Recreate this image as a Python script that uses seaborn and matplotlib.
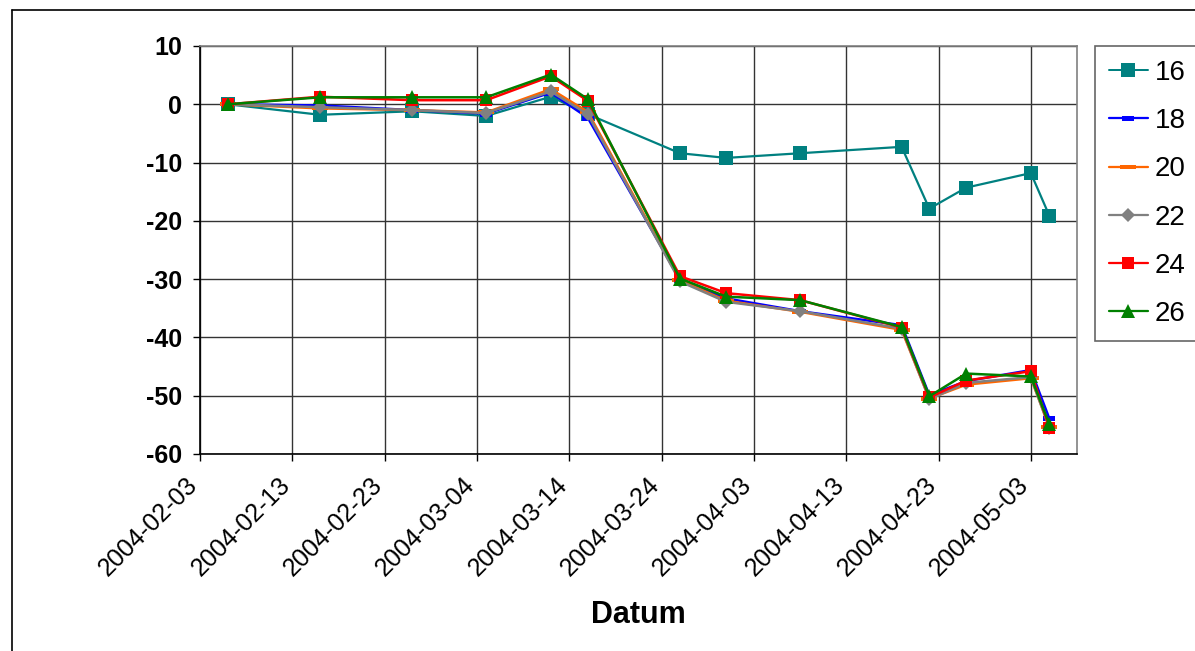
import matplotlib
matplotlib.use("Agg")
import matplotlib.pyplot as plt
import matplotlib.transforms as mtransforms
import matplotlib.dates as mdates
from matplotlib.lines import Line2D
import numpy as np
import pandas as pd
import seaborn as sns

# Measurement dates
dates = ["2004-02-06", "2004-02-16", "2004-02-26", "2004-03-05", "2004-03-12",
         "2004-03-16", "2004-03-26", "2004-03-31", "2004-04-08", "2004-04-19",
         "2004-04-22", "2004-04-26", "2004-05-03", "2004-05-05"]

# Series values
s16 = [0, -1.8, -1.2, -2.0, 1.3, -1.7, -8.4, -9.2, -8.4, -7.3, -17.9, -14.3, -11.8, -19.1]
s18 = [0, -0.2, -1.0, -1.6, 2.0, -2.3, -30.1, -33.3, -35.5, -37.9, -49.9, -47.5, -45.6, -53.9]
s20 = [0, -0.7, -1.0, -1.4, 2.6, -1.3, -30.2, -33.7, -35.6, -38.7, -50.5, -48.1, -47.0, -55.3]
s22 = [0, -0.5, -1.0, -1.5, 2.2, -1.7, -30.4, -33.9, -35.5, -38.5, -50.6, -47.8, -46.8, -55.5]
s24 = [0, 1.3, 0.7, 0.7, 4.8, 0.6, -29.5, -32.4, -33.6, -38.3, -50.3, -47.4, -45.8, -55.5]
s26 = [0, 1.2, 1.2, 1.2, 5.1, 0.9, -29.9, -33.0, -33.6, -38.2, -50.1, -46.2, -46.7, -54.9]

series_names = ["16", "18", "20", "22", "24", "26"]
series_values = [s16, s18, s20, s22, s24, s26]

tick_start = "2004-02-03"
x_max = "2004-05-08"
y_ticks = [10, 0, -10, -20, -30, -40, -50, -60]

# Excel-like dash markers (short wide bars)
dash_small = [(-1.0, -0.45), (1.0, -0.45), (1.0, 0.45), (-1.0, 0.45), (-1.0, -0.45)]
dash_wide = [(-1.0, -0.3), (1.0, -0.3), (1.0, 0.3), (-1.0, 0.3), (-1.0, -0.3)]

styles = {
    "16": dict(color="#008080", marker="s", ms=10, lw=1.6),
    "18": dict(color="#0000FF", marker=dash_small, ms=8, lw=1.8),
    "20": dict(color="#FF6600", marker=dash_wide, ms=11, lw=1.8),
    "22": dict(color="#808080", marker="D", ms=7, lw=1.8),
    "24": dict(color="#FF0000", marker="s", ms=9, lw=1.8),
    "26": dict(color="#008000", marker="^", ms=10, lw=1.8),
}

records = []
for name, vals in zip(series_names, series_values):
    for d, v in zip(dates, vals):
        records.append({"Datum": pd.Timestamp(d), "value": v, "series": name})
df = pd.DataFrame(records)

sns.set_style("white")
plt.rcParams["font.family"] = ["Liberation Sans", "DejaVu Sans"]
plt.rcParams["axes.unicode_minus"] = False
plt.rcParams["text.color"] = "black"
plt.rcParams["axes.labelcolor"] = "black"
plt.rcParams["xtick.color"] = "black"
plt.rcParams["ytick.color"] = "black"

fig = plt.figure(figsize=(11.95, 6.51), dpi=100)
ax = fig.add_axes([200 / 1195, 1 - 454 / 651, 877 / 1195, 408 / 651])

handles = []
for name in series_names:
    st = styles[name]
    sub = df[df["series"] == name]
    sns.lineplot(data=sub, x="Datum", y="value", ax=ax, color=st["color"],
                 marker=st["marker"], markersize=st["ms"], linewidth=st["lw"],
                 markeredgewidth=0, markerfacecolor=st["color"],
                 markeredgecolor=st["color"], legend=False, zorder=3)
    handles.append(Line2D([0], [0], color=st["color"], marker=st["marker"],
                          markersize=st["ms"], lw=st["lw"] * 0.9,
                          markeredgewidth=0, markerfacecolor=st["color"]))

# Axes ranges and ticks
x0 = pd.Timestamp(tick_start)
x_ticks = pd.date_range(x0, periods=10, freq="10D")
ax.set_xlim(x0, pd.Timestamp(x_max))
ax.set_ylim(-60, 10)
ax.set_yticks(y_ticks)
ax.set_xticks(x_ticks)
ax.xaxis.set_major_formatter(mdates.DateFormatter("%Y-%m-%d"))

ax.grid(True, color="#333333", linewidth=1.0, zorder=0)
ax.set_axisbelow(True)

for side in ["left", "bottom"]:
    ax.spines[side].set_color("black")
    ax.spines[side].set_linewidth(1.2)
for side in ["top", "right"]:
    ax.spines[side].set_color("#808080")
    ax.spines[side].set_linewidth(1.2)

ax.tick_params(axis="y", which="major", direction="out", length=5, width=1,
               color="black", labelsize=18, pad=8, left=True)
ax.tick_params(axis="x", which="major", direction="out", length=5, width=1,
               color="black", labelsize=18, pad=14.5, bottom=True)
for lbl in ax.get_yticklabels():
    lbl.set_fontweight("bold")
offset = mtransforms.ScaledTranslation(-6 / 100, 0, fig.dpi_scale_trans)
for lbl in ax.get_xticklabels():
    lbl.set_rotation(45)
    lbl.set_ha("right")
    lbl.set_va("center")
    lbl.set_rotation_mode("anchor")
    lbl.set_transform(lbl.get_transform() + offset)

ax.set_ylabel("")
ax.set_xlabel("Datum", fontsize=22, fontweight="bold")
ax.xaxis.set_label_coords(0.5, (1 - 615 / 651 - (1 - 454 / 651)) / (408 / 651),
                          transform=ax.transAxes)
ax.xaxis.label.set_va("center")

leg = fig.legend(handles, series_names, loc="upper left",
                 bbox_to_anchor=(1095 / 1195, 1 - 46 / 651),
                 frameon=True, fontsize=20, handlelength=1.4, handletextpad=0.25,
                 labelspacing=0.8, borderpad=0.5, fancybox=False,
                 borderaxespad=0)
leg.get_frame().set_edgecolor("#404040")
leg.get_frame().set_linewidth(1.2)

# Outer chart frame (left and top edges)
fig.add_artist(Line2D([12 / 1195, 12 / 1195], [0, 1 - 10 / 651],
                      transform=fig.transFigure, color="black", lw=1.2))
fig.add_artist(Line2D([12 / 1195, 1], [1 - 10 / 651, 1 - 10 / 651],
                      transform=fig.transFigure, color="black", lw=1.2))

fig.savefig("out.png", dpi=100, facecolor="white")
